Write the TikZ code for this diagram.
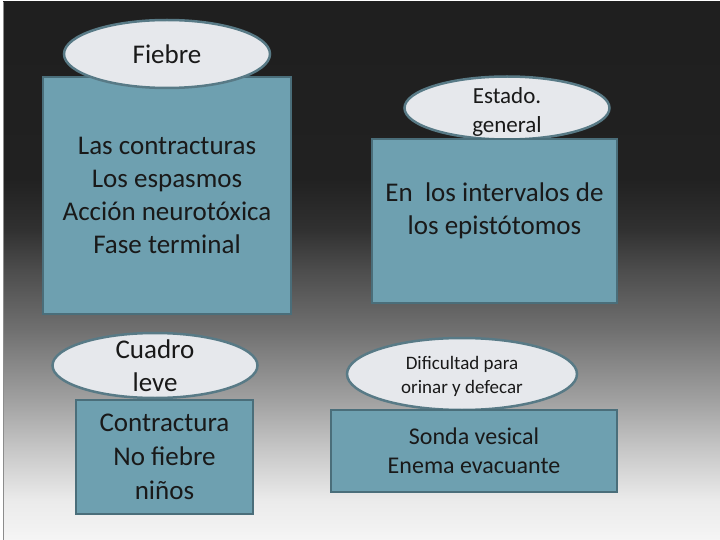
\documentclass[tikz,border=0pt]{standalone}
\usepackage{fontspec}
\setmainfont{Carlito}
\usetikzlibrary{shapes.geometric}

\definecolor{azulcaja}{RGB}{110,160,176}
\definecolor{bordeazul}{RGB}{74,110,122}
\definecolor{elipseclara}{RGB}{230,232,236}
\definecolor{bordeelipse}{RGB}{88,122,134}

\pgfdeclareverticalshading{fondo_gris}{100bp}{
  color(0bp)=(white!96!black); color(25bp)=(white!96!black);
  color(28.7bp)=(white!92!black); color(33.4bp)=(white!78!black);
  color(38bp)=(white!63!black); color(44.5bp)=(white!44!black);
  color(50.1bp)=(white!30!black); color(53.9bp)=(white!19!black);
  color(58.5bp)=(white!13!black); color(75bp)=(white!12!black);
  color(100bp)=(white!12!black)}

\begin{document}
\begin{tikzpicture}[x=1pt,y=-1pt]

\tikzset{
    caja_azul/.style={
        rectangle, draw=bordeazul, fill=azulcaja,
        line width=2.5pt, inner sep=0pt, align=center
    }
}

\tikzset{
    elipse_clara/.style={
        ellipse, draw=bordeelipse, fill=elipseclara,
        line width=2.5pt, inner sep=0pt
    }
}

\tikzset{
    texto_caja/.style={align=center, text=black!90, font=\fontsize{27}{33}\selectfont}
}

% Fondo
\useasboundingbox (0,0) rectangle (720,540);
\fill[white] (0,0) rectangle (720,540);
\shade[shading=fondo_gris] (3,2) rectangle (720,540);
\draw[black!45, line width=0.8pt] (3,2) -- (3,540);

% Columna izquierda
\node[caja_azul, texto_caja, minimum width=248, minimum height=237] (contracturas) at (167,195.5)
    {Las contracturas\\Los espasmos\\Acción neurotóxica\\Fase terminal};
\node[elipse_clara, minimum width=206, minimum height=68] (fiebre) at (167,54) {};
\node[texto_caja] (fiebre_txt) at (fiebre) {Fiebre};

\node[elipse_clara, minimum width=205, minimum height=65] (cuadro) at (155,365.5) {};
\node[texto_caja] (cuadro_txt) at (cuadro) {Cuadro\\leve};
\node[caja_azul, texto_caja, minimum width=177, minimum height=114, font=\fontsize{27}{34}\selectfont] (leve) at (164.5,457)
    {Contractura\\No fiebre\\niños};

% Columna derecha
\node[elipse_clara, minimum width=205, minimum height=63] (estado) at (507,108) {};
\node[texto_caja, font=\fontsize{23}{29}\selectfont] (estado_txt) at (507,112) {Estado.\\general};
\node[caja_azul, minimum width=245, minimum height=164] (intervalos) at (494.5,221) {};
\node[texto_caja] (intervalos_txt) at (494.5,211) {En\ \ los intervalos de\\los epistótomos};

\node[elipse_clara, minimum width=230, minimum height=72] (dificultad) at (462,374) {};
\node[texto_caja, font=\fontsize{19}{24}\selectfont] (dificultad_txt) at (462,376) {Dificultad para\\orinar y defecar};
\node[caja_azul, texto_caja, minimum width=286, minimum height=82, font=\fontsize{24}{29}\selectfont] (sonda) at (474,451)
    {Sonda vesical\\Enema evacuante};

\end{tikzpicture}
\end{document}
